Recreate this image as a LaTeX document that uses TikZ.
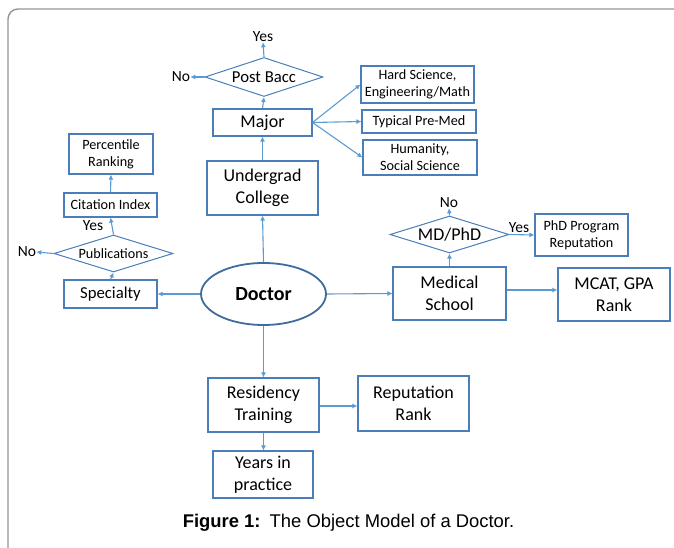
\documentclass[tikz,border=0pt]{standalone}
\usepackage{fontspec}
\setmainfont{Carlito}
\newfontfamily\capfont{Liberation Sans}
\usepackage{tikz}
\usepackage{xcolor}
\usetikzlibrary{shapes.geometric, arrows.meta, positioning}
\definecolor{boxblue}{HTML}{4A7EBB}
\definecolor{lineblue}{HTML}{5B9BD5}
\definecolor{frameg}{HTML}{959595}
\newcommand{\bigtxt}{\fontsize{18}{22}\selectfont}
\newcommand{\midtxt}{\fontsize{16.7}{20}\selectfont}
\newcommand{\smalltxt}{\fontsize{14.2}{17}\selectfont}
\newcommand{\yntxt}{\fontsize{15.5}{18}\selectfont}
\tikzstyle{box} = [rectangle, 
draw=boxblue, 
line width=1.1pt, 
inner sep=0pt, 
align=center, text centered]
\tikzstyle{decision} = [diamond, aspect=3, 
draw=boxblue, 
line width=1pt, 
inner sep=0pt, text centered]
\tikzstyle{yn} = [inner sep=0pt, font=\yntxt]
\tikzstyle{arrow} = [lineblue, line width=1.1pt, -{Latex[length=5pt, width=5pt]}]

\begin{document}
\begin{tikzpicture}[x=1pt, y=-1pt]
        \useasboundingbox (0,0) rectangle (674,548);
        \draw[frameg, line width=1.4pt, rounded corners=10pt] (680,9) -- (8,9) -- (8,556);
        \node[decision, minimum width=118pt, minimum height=39pt, font=\midtxt] (postbacc) at (264,77) {Post Bacc};
        \node[yn] (pbyes) at (263,37) {Yes};
        \node[yn] (pbno) at (181,77) {No};
        \node[box, minimum width=99pt, minimum height=27pt, font=\bigtxt] (major) at (262.5,122.5) {Major};
        \node[box, minimum width=113pt, minimum height=37pt, font=\smalltxt] (hardsci) at (417.5,84.5) {Hard Science,\\Engineering/Math};
        \node[box, minimum width=114pt, minimum height=23pt, font=\smalltxt] (premed) at (419,121.5) {Typical Pre-Med};
        \node[box, minimum width=114pt, minimum height=35pt, font=\smalltxt] (humanity) at (420,157.5) {Humanity,\\Social Science};
        \node[box, minimum width=111pt, minimum height=54pt, font=\bigtxt] (college) at (262.5,188) {Undergrad\\College};
        \node[ellipse, draw=boxblue!85!black, line width=1.8pt, minimum width=125pt, minimum height=62pt, inner sep=0pt, font=\fontsize{20}{24}\selectfont\bfseries] (doctor) at (263.5,294) {Doctor};
        \node[box, minimum width=93pt, minimum height=28pt, font=\midtxt] (specialty) at (110.5,294) {Specialty};
        \node[decision, minimum width=119pt, minimum height=37pt, font=\smalltxt] (pubs) at (113.5,253.5) {Publications};
        \node[yn] (pubno) at (27,252) {No};
        \node[yn] (pubyes) at (93,226) {Yes};
        \node[box, minimum width=93pt, minimum height=24pt, font=\smalltxt] (citation) at (110.5,205) {Citation Index};
        \node[box, minimum width=84pt, minimum height=40pt, font=\smalltxt] (percentile) at (111,154) {Percentile\\Ranking};
        \node[box, minimum width=113pt, minimum height=53pt, font=\bigtxt] (medical) at (449.5,293.5) {Medical\\School};
        \node[decision, minimum width=119pt, minimum height=37pt, font=\bigtxt] (mdphd) at (449.5,234.5) {MD/PhD};
        \node[yn] (mdno) at (449,203) {No};
        \node[yn] (mdyes) at (519,228) {Yes};
        \node[box, minimum width=93pt, minimum height=42pt, font=\smalltxt] (phd) at (581.5,235) {PhD Program\\Reputation};
        \node[box, minimum width=112pt, minimum height=53pt, font=\bigtxt] (mcat) at (614,294.5) {MCAT, GPA\\Rank};
        \node[box, minimum width=111pt, minimum height=54pt, font=\bigtxt] (residency) at (263.5,405) {Residency\\Training};
        \node[box, minimum width=111pt, minimum height=55pt, font=\bigtxt] (reputation) at (413.5,403.5) {Reputation\\Rank};
        \node[box, minimum width=100pt, minimum height=47pt, font=\bigtxt] (years) at (263,474.5) {Years in\\practice};
        \node[font=\capfont\fontsize{18.4}{22}\selectfont] (caption) at (348.5,523) {\textbf{Figure 1:}\hspace{0.5em}The Object Model of a Doctor.};

        \draw[arrow] (postbacc.north) -- (pbyes.south);
        \draw[arrow] (postbacc.west) -- (pbno.east);
        \draw[arrow] (major.north) -- (postbacc.south);
        \draw[arrow] (major.east) -- (hardsci.west);
        \draw[arrow] (major.east) -- (premed.west);
        \draw[arrow] (major.east) -- (humanity.west);
        \draw[arrow] (college.north) -- (major.north |- major.south);
        \draw[arrow] (doctor.north) -- (college.south);
        \draw[arrow] (doctor.west) -- (specialty.east);
        \draw[arrow] (specialty.north) -- (pubs.south);
        \draw[arrow] (pubs.west) -- (pubno.east);
        \draw[arrow] (pubs.north) -- (citation.south);
        \draw[arrow] (citation.north) -- (percentile.south);
        \draw[arrow] (doctor.east) -- (medical.west);
        \draw[arrow] (medical.north) -- (mdphd.south);
        \draw[arrow] (mdphd.north) -- (mdno.south);
        \draw[arrow] (mdphd.east) -- (phd.west);
        \draw[arrow] ([yshift=3.5pt]medical.east) -- ([yshift=3.5pt]medical.east -| mcat.west);
        \draw[arrow] (doctor.south) -- (residency.north);
        \draw[arrow] ([yshift=-1pt]residency.east) -- ([yshift=-1pt]residency.east -| reputation.west);
        \draw[arrow] (residency.south) -- (residency.south |- years.north);
    \end{tikzpicture}
\end{document}
